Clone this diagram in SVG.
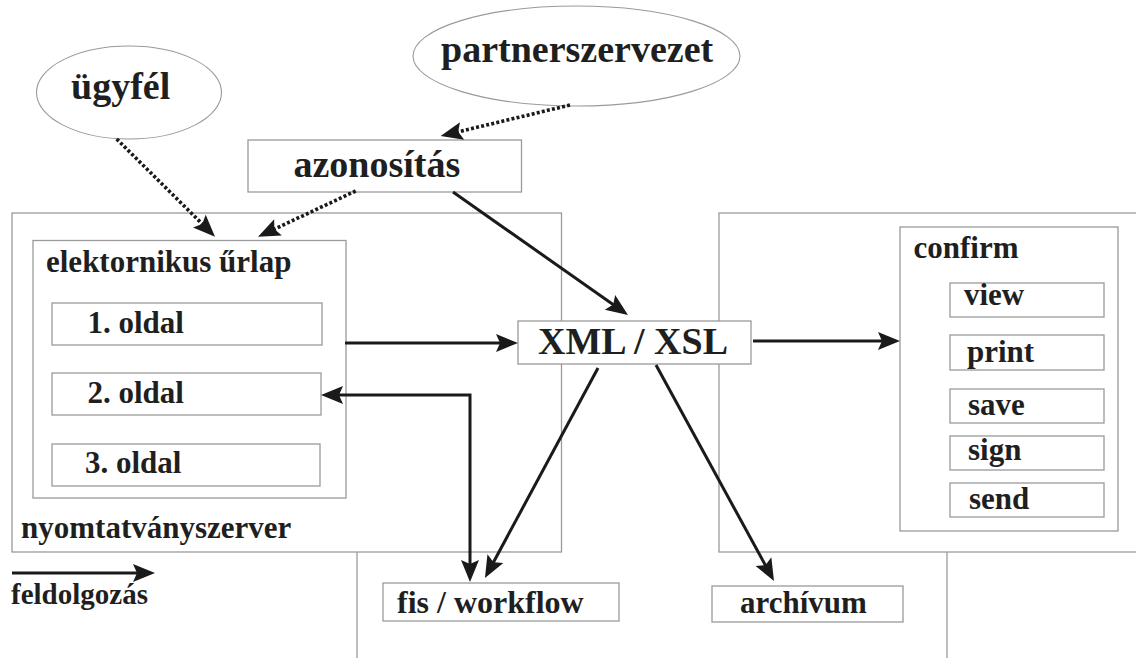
<svg xmlns="http://www.w3.org/2000/svg" width="1136" height="658" viewBox="0 0 1136 658">
  <defs>
    <marker id="head" markerUnits="userSpaceOnUse" markerWidth="24" markerHeight="20" refX="12" refY="9" orient="auto-start-reverse" overflow="visible">
      <path d="M0,0 L22,9 L0,18 L4,9 Z" fill="#1a1a1a"/>
    </marker>
    <style>
      .box { fill: #fff; stroke: #9a9a9a; stroke-width: 1.3; }
      .frame { fill: none; stroke: #9a9a9a; stroke-width: 1.3; }
      .oval { fill: #fff; stroke: #9a9a9a; stroke-width: 1.1; }
      .lbl { font-family: "Liberation Serif", "Times New Roman", serif; font-weight: bold; fill: #1f1f1f; font-size: 31px; }
      .big { font-size: 38px; }
      .flow { fill: none; stroke: #1a1a1a; stroke-width: 3; marker-end: url(#head); }
      .dot { fill: none; stroke: #1a1a1a; stroke-width: 3.6; stroke-dasharray: 3 2.2; marker-end: url(#head); }
    </style>
  </defs>
  <rect width="1136" height="658" fill="#fff"/>

  <!-- lower frame: only its side edges show -->
  <g id="frames">
    <line class="frame" x1="357" y1="552" x2="357" y2="660"/>
    <line class="frame" x1="947" y1="552" x2="947" y2="660"/>
  </g>

  <g id="nyomtatvanyszerver">
    <rect class="box" x="12" y="213" width="549.5" height="339"/>
    <text class="lbl" x="21" y="538">nyomtatványszerver</text>
  </g>

  <g id="confirm-server">
    <rect class="box" x="719" y="213" width="430" height="339"/>
  </g>

  <g id="urlap">
    <rect class="box" x="33" y="240.5" width="313" height="257.5"/>
    <text class="lbl" x="46" y="271.5">elektornikus űrlap</text>
  </g>
  <g id="oldal1">
    <rect class="box" x="52" y="303" width="270" height="42"/>
    <text class="lbl" x="87.5" y="333">1. oldal</text>
  </g>
  <g id="oldal2">
    <rect class="box" x="52" y="373" width="269" height="42"/>
    <text class="lbl" x="87.5" y="403">2. oldal</text>
  </g>
  <g id="oldal3">
    <rect class="box" x="52" y="444" width="268" height="42"/>
    <text class="lbl" x="85" y="473">3. oldal</text>
  </g>

  <g id="ugyfel">
    <ellipse class="oval" cx="129" cy="92.5" rx="92.5" ry="46.5"/>
    <text class="lbl big" x="71" y="99">ügyfél</text>
  </g>
  <g id="partnerszervezet">
    <ellipse class="oval" cx="576.5" cy="56" rx="163.5" ry="50"/>
    <text class="lbl big" x="441" y="62">partnerszervezet</text>
  </g>
  <g id="azonositas">
    <rect class="box" x="248" y="140" width="273.5" height="52"/>
    <text class="lbl big" x="293.5" y="177">azonosítás</text>
  </g>

  <g id="xml-xsl">
    <rect class="box" x="518" y="321" width="233" height="43"/>
    <text class="lbl big" x="538" y="354">XML / XSL</text>
  </g>

  <g id="confirm">
    <rect class="box" x="900" y="227" width="218" height="304"/>
    <text class="lbl" x="913.5" y="258">confirm</text>
  </g>
  <g id="view">
    <rect class="box" x="950" y="283" width="154" height="34"/>
    <text class="lbl" x="964" y="305">view</text>
  </g>
  <g id="print">
    <rect class="box" x="950" y="335" width="154" height="35"/>
    <text class="lbl" x="967" y="361.5">print</text>
  </g>
  <g id="save">
    <rect class="box" x="950" y="389" width="154" height="34"/>
    <text class="lbl" x="968" y="415">save</text>
  </g>
  <g id="sign">
    <rect class="box" x="950" y="436" width="154" height="34"/>
    <text class="lbl" x="968" y="460">sign</text>
  </g>
  <g id="send">
    <rect class="box" x="950" y="483" width="154" height="34"/>
    <text class="lbl" x="969" y="509">send</text>
  </g>

  <g id="fis-workflow">
    <rect class="box" x="383" y="583" width="236" height="38"/>
    <text class="lbl" x="397" y="612.5" style="font-size:32px">fis / workflow</text>
  </g>
  <g id="archivum">
    <rect class="box" x="712" y="586" width="191" height="36"/>
    <text class="lbl" x="740" y="613">archívum</text>
  </g>

  <g id="legend">
    <line class="flow" x1="12" y1="573" x2="145" y2="573"/>
    <text class="lbl" x="11" y="604" style="font-size:29px">feldolgozás</text>
  </g>

  <!-- connectors: dotted = identification, solid = processing -->
  <g id="connectors">
    <line class="dot" x1="116.7" y1="139" x2="207.9" y2="229.6"/>
    <line class="dot" x1="355.7" y1="191" x2="267.1" y2="232.5"/>
    <line class="dot" x1="570" y1="105" x2="450.4" y2="133.7"/>
    <line class="flow" x1="453" y1="192" x2="619.8" y2="309.2"/>
    <line class="flow" x1="345" y1="343" x2="508" y2="343"/>
    <line class="flow" x1="753" y1="341" x2="890" y2="341"/>
    <line class="flow" x1="598" y1="368" x2="489.7" y2="569.2"/>
    <line class="flow" x1="656" y1="365" x2="769.2" y2="572.2"/>
    <path class="flow" d="M470,572 V395 H331" marker-start="url(#head)"/>
  </g>
</svg>
